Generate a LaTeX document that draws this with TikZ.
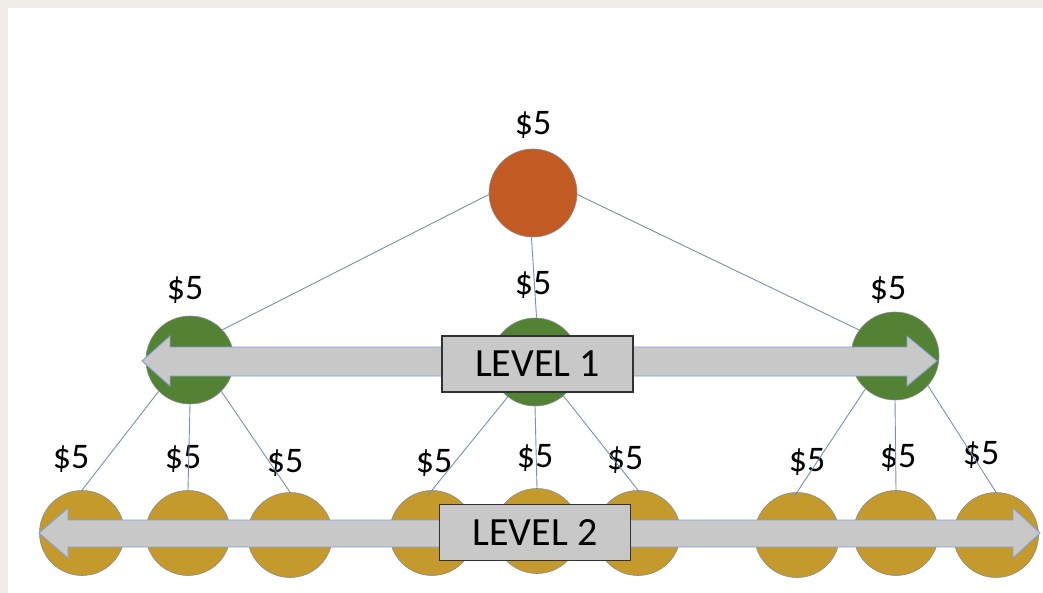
\documentclass[tikz,border=0pt]{standalone}
\usepackage{fontspec}
\setmainfont{Carlito}
\definecolor{bandgray}{RGB}{240,236,232}
\definecolor{orangec}{RGB}{193,91,35}
\definecolor{greenc}{RGB}{84,130,53}
\definecolor{goldc}{RGB}{196,154,44}
\definecolor{linec}{RGB}{120,144,182}
\definecolor{arrowfill}{RGB}{200,200,200}
\definecolor{arrowline}{RGB}{130,160,210}
\definecolor{boxline}{RGB}{50,50,50}
\begin{document}
\begin{tikzpicture}[x=1pt,y=-1pt,
  coin/.style={circle,draw=black!45,line width=0.6pt,inner sep=0pt},
  topcoin/.style={coin,fill=orangec,minimum size=88pt},
  midcoin/.style={coin,fill=greenc,minimum size=88pt},
  lowcoin/.style={coin,fill=goldc,minimum size=85pt},
  money/.style={font=\fontsize{36}{36}\selectfont,inner sep=0pt},
  link/.style={draw=linec,line width=0.9pt},
  bigarrow/.style={fill=arrowfill,draw=arrowline,line width=0.9pt,line join=miter},
  levelbox/.style={draw=boxline,fill=arrowfill,line width=1.2pt,minimum width=191pt,minimum height=56pt,inner sep=0pt,font=\fontsize{40}{40}\selectfont}]
\useasboundingbox (0,0) rectangle (1043,593);
\fill[bandgray] (0,0) rectangle (1043,593);
\fill[white] (8,8) rectangle (1043,593);

% coins
\node[topcoin] (o) at (533,193) {};
\node[midcoin] (g1) at (190,360) {};
\node[midcoin] (g2) at (535,362) {};
\node[midcoin] (g3) at (895,356) {};
\node[lowcoin] (y1) at (82,533) {};
\node[lowcoin] (y2) at (188,533) {};
\node[lowcoin] (y3) at (290,535) {};
\node[lowcoin] (y4) at (432,533) {};
\node[lowcoin] (y5) at (537,531) {};
\node[lowcoin] (y6) at (638,533) {};
\node[lowcoin] (y7) at (797,535) {};
\node[lowcoin] (y8) at (896,533) {};
\node[lowcoin] (y9) at (996,535) {};

% labels
\node[money] (lo) at (533,125) {\$5};
\node[money] (l1) at (185,290) {\$5};
\node[money] (l2) at (533,285) {\$5};
\node[money] (l3) at (888,290) {\$5};
\node[money] (m1) at (71,459) {\$5};
\node[money] (m2) at (183,459) {\$5};
\node[money] (m3) at (285,463) {\$5};
\node[money] (m4) at (434,463) {\$5};
\node[money] (m5) at (535,458) {\$5};
\node[money] (m6) at (625,460) {\$5};
\node[money] (m7) at (807,462) {\$5};
\node[money] (m8) at (898,458) {\$5};
\node[money] (m9) at (981,455) {\$5};

% links
\draw[link] (o.182) -- (g1.43);
\draw[link] (o.268) -- (g2.88);
\draw[link] (o.-2) -- (g3.144);
\draw[link,shorten >=-1pt] (g1.225) -- (y1.north);
\draw[link,shorten >=-1pt] (g1.south) -- (y2.north);
\draw[link,shorten >=-1pt] (g1.315) -- (y3.north);
\draw[link,shorten >=-8pt] (g2.232) -- (y4.north);
\draw[link,shorten >=-2pt] (g2.south) -- (y5.north);
\draw[link,shorten >=-4pt] (g2.310) -- (y6.north);
\draw[link,shorten >=-6pt] (g3.228) -- (y7.north);
\draw[link,shorten >=-4pt] (g3.south) -- (y8.north);
\draw[link,shorten >=-2pt] (g3.318) -- (y9.north);

% level arrows
\draw[bigarrow] (142,361) -- (170,336) -- (170,347) -- (907,347) -- (907,336)
  -- (937,361) -- (907,386) -- (907,376) -- (170,376) -- (170,386) -- cycle;
\draw[bigarrow] (39,533) -- (68,508) -- (68,520) -- (1013,520) -- (1013,508)
  -- (1040,533) -- (1013,558) -- (1013,547) -- (68,547) -- (68,558) -- cycle;

\node[levelbox] (b1) at (537.5,364) {LEVEL 1};
\node[levelbox] (b2) at (535,532.5) {LEVEL 2};
\end{tikzpicture}
\end{document}
